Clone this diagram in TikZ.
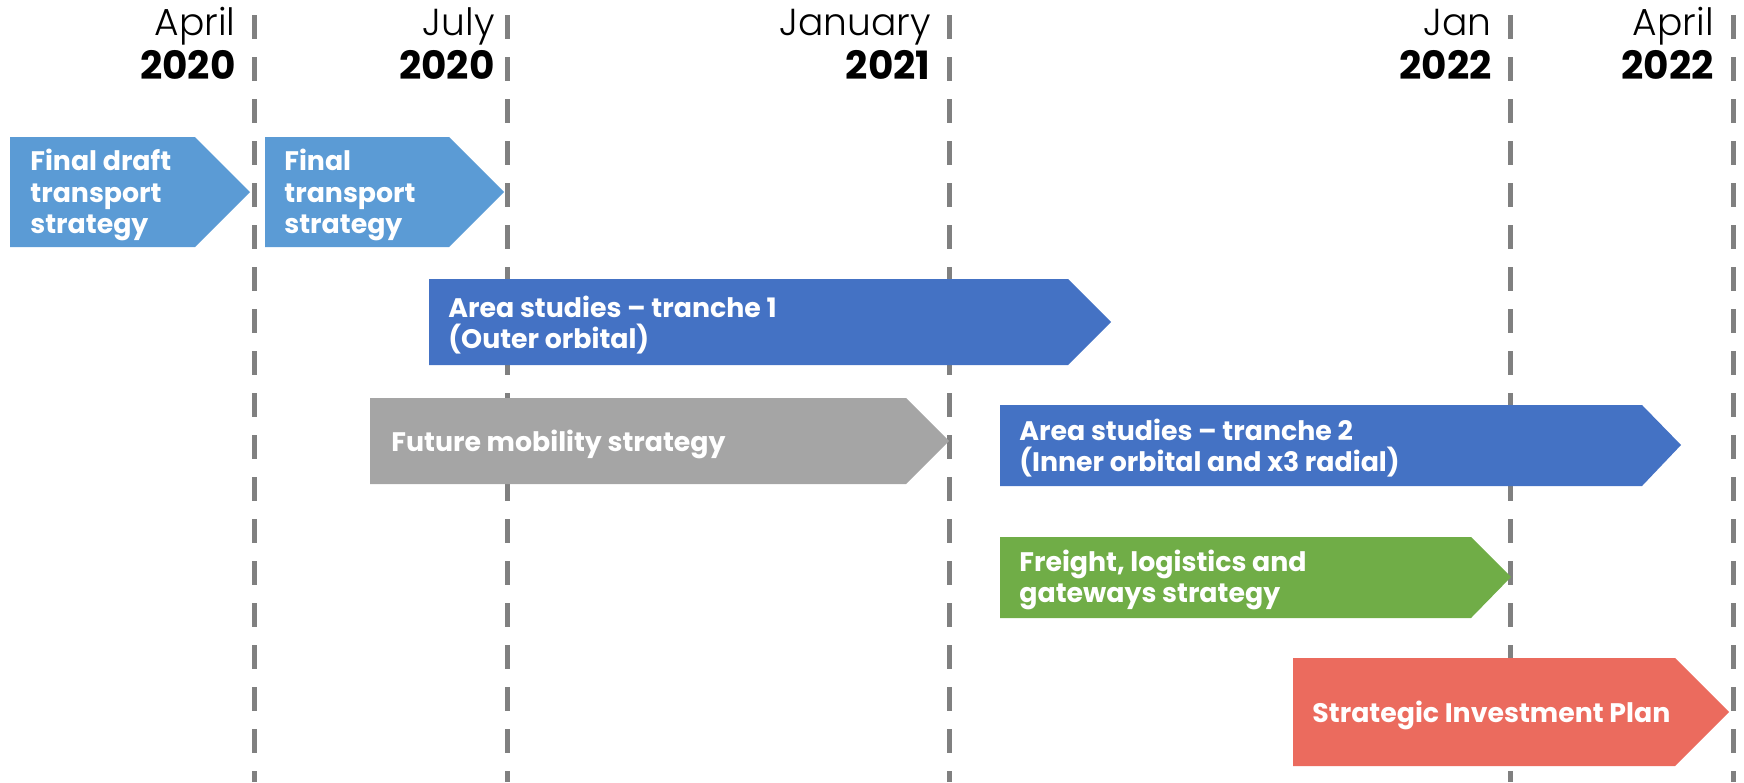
\documentclass[tikz,border=0pt]{standalone}
\usepackage{fontspec}
\setmainfont{Poppins}
\newfontfamily\monthfont{Poppins Light}
\usepackage{tikz}

\definecolor{lightblue}{HTML}{5B9BD5}
\definecolor{darkblue}{HTML}{4472C4}
\definecolor{midgray}{HTML}{A5A5A5}
\definecolor{freightgreen}{HTML}{70AD47}
\definecolor{sipred}{HTML}{EB6B5E}
\definecolor{linegray}{HTML}{808080}

\tikzset{
  gridline/.style={linegray, line width=2.5pt, dash pattern=on 11.75pt off 9.25pt},
  month/.style={anchor=base east, inner sep=0pt, font=\monthfont\fontsize{18.8}{22}\selectfont},
  year/.style={anchor=base east, inner sep=0pt, font=\bfseries\fontsize{19.5}{24}\selectfont},
  boxtext/.style={anchor=west, inner sep=0pt, align=left, white, font=\bfseries\fontsize{13.4}{15.85}\selectfont}
}

\begin{document}
\begin{tikzpicture}[x=0.5pt,y=-0.5pt]
\useasboundingbox (0,0) rectangle (1744,782);
\foreach \x in {254,507,949,1510,1733}{
	\draw[gridline] (\x,15) -- (\x,782);
}
% dates
\node[month] (m1) at (236,35) {April};
\node[year] (y1) at (236,79) {2020};
\node[month] (m2) at (495,35) {July};
\node[year] (y2) at (495,79) {2020};
\node[month] (m3) at (931,35) {January};
\node[year] (y3) at (931,79) {2021};
\node[month] (m4) at (1492,35) {Jan};
\node[year] (y4) at (1492,79) {2022};
\node[month] (m5) at (1714,35) {April};
\node[year] (y5) at (1714,79) {2022};
% phases
\fill[lightblue] (10,137) -- (195,137) -- (250,192) -- (195,247) -- (10,247) -- cycle;
\node[boxtext] (draft) at (30,195) {Final draft\\transport\\strategy};
\fill[lightblue] (265,137) -- (449,137) -- (504,192) -- (449,247) -- (265,247) -- cycle;
\node[boxtext] (final) at (284,195) {Final\\transport\\strategy};
\fill[darkblue] (429,279) -- (1068,279) -- (1111,322) -- (1068,365) -- (429,365) -- cycle;
\node[boxtext] (tranche1) at (448,325) {Area studies -- tranche 1\\(Outer orbital)};
\fill[midgray] (370,398) -- (906,398) -- (949,441) -- (906,484) -- (370,484) -- cycle;
\node[boxtext] (mobility) at (391,444) {Future mobility strategy};
\fill[darkblue] (1000,405) -- (1642,405) -- (1681,445) -- (1642,486) -- (1000,486) -- cycle;
\node[boxtext] (tranche2) at (1019,448) {Area studies -- tranche 2\\(Inner orbital and x3 radial)};
\fill[freightgreen] (1000,537) -- (1471,537) -- (1511,577) -- (1471,618) -- (1000,618) -- cycle;
\node[boxtext] (freight) at (1019,580) {Freight, logistics and\\gateways strategy};
\fill[sipred] (1293,658) -- (1675,658) -- (1729,712) -- (1675,766) -- (1293,766) -- cycle;
\node[boxtext] (sip) at (1312,715) {Strategic Investment Plan};
\end{tikzpicture}
\end{document}
